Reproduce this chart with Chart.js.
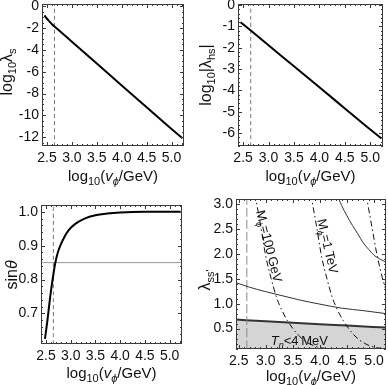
<!DOCTYPE html>
<html>
<head>
<meta charset="utf-8">
<script src="https://cdn.jsdelivr.net/npm/chart.js@4.4.1/dist/chart.umd.min.js"></script>
<style>
html, body { margin: 0; padding: 0; background: #fff; }
#wrap { position: relative; width: 388px; height: 385px; overflow: hidden; }
canvas { position: absolute; }
</style>
</head>
<body>
<div id="wrap">
  <canvas id="c1" width="194" height="192" style="left:0;top:0"></canvas>
  <canvas id="c2" width="194" height="192" style="left:194px;top:0"></canvas>
  <canvas id="c3" width="194" height="193" style="left:0;top:192px"></canvas>
  <canvas id="c4" width="194" height="193" style="left:194px;top:192px"></canvas>
</div>
<script>
// x axis: log10(v_phi/GeV), same ticks for all four panels
var xTicks = [2.5, 3.0, 3.5, 4.0, 4.5, 5.0];
var vCut = 2.65; // dashed vertical line

// top left: log10 lambda_s
var lamSX = [2.45, 2.5, 2.55, 2.6, 2.65, 2.75, 2.9, 3.0, 3.5, 4.0, 4.5, 5.0, 5.22];
var lamSY = [-0.85, -1.15, -1.4, -1.65, -1.85, -2.25, -2.85, -3.25, -5.25, -7.25, -9.25, -11.25, -12.1];
var lamSTicks = [0, -2, -4, -6, -8, -10, -12];

// top right: log10 |lambda_hs|
var lamHsX = [2.45, 3.0, 3.5, 4.0, 4.5, 5.0, 5.22];
var lamHsY = [-0.8, -1.88, -2.87, -3.85, -4.84, -5.83, -6.25];
var lamHsTicks = [0, -1, -2, -3, -4, -5, -6];

// bottom left: sin theta
var sinX = [2.48, 2.53, 2.57, 2.6, 2.65, 2.69, 2.74, 2.79, 2.87, 2.96, 3.1, 3.28, 3.5, 3.74, 4.0, 4.5, 5.22];
var sinY = [0.625, 0.68, 0.73, 0.765, 0.815, 0.85, 0.88, 0.9, 0.925, 0.946, 0.965, 0.98, 0.99, 0.995, 0.998, 1.0, 1.0];
var sinRef = 0.85;
var sinTicks = [0.7, 0.8, 0.9, 1.0];

// bottom right: lambda_ss'
var tnX = [2.45, 3.0, 3.5, 4.0, 4.5, 5.22];
var tnY = [0.68, 0.645, 0.615, 0.585, 0.56, 0.52];
var lowX = [2.45, 2.7, 3.0, 3.3, 3.6, 4.0, 4.4, 4.8, 5.22];
var lowY = [1.42, 1.33, 1.24, 1.16, 1.08, 0.99, 0.91, 0.86, 0.8];
var upX = [4.35, 4.4, 4.5, 4.6, 4.7, 4.8, 4.9, 5.0, 5.1, 5.22];
var upY = [3.1, 2.97, 2.76, 2.57, 2.4, 2.22, 2.09, 1.97, 1.9, 1.83];
var m100X = [2.8, 2.85, 2.9, 3.0, 3.1, 3.2, 3.3, 3.4, 3.5, 3.6, 3.7, 3.8, 3.9, 4.0, 4.1];
var m100Y = [3.2, 2.9, 2.6, 1.95, 1.5, 1.12, 0.86, 0.66, 0.5, 0.37, 0.27, 0.2, 0.15, 0.12, 0.1];
var m1tX = [3.83, 3.88, 3.93, 4.03, 4.13, 4.23, 4.33, 4.43, 4.53, 4.63, 4.73, 4.83, 4.93, 5.03, 5.13];
var m1tY = [3.2, 2.9, 2.6, 1.95, 1.5, 1.12, 0.86, 0.66, 0.5, 0.37, 0.27, 0.2, 0.15, 0.12, 0.1];
var m10tX = [4.85, 4.9, 4.95, 5.05, 5.15, 5.22];
var m10tY = [3.2, 2.9, 2.6, 2.0, 1.53, 1.27];
var lssTicks = [0.5, 1.0, 1.5, 2.0, 2.5, 3.0];

var FONT = "'Liberation Sans', Arial, sans-serif";

function pts(xs, ys) {
  return xs.map(function(x, i) { return { x: x, y: ys[i] }; });
}
function line(xs, ys, color, width, dash, extra) {
  var ds = {
    data: pts(xs, ys), showLine: true, pointRadius: 0, borderColor: color,
    borderWidth: width, borderDash: dash || [], fill: false, cubicInterpolationMode: 'monotone', order: 1
  };
  for (var k in extra) ds[k] = extra[k];
  return ds;
}
function vline(x, y0, y1, color, dash) {
  return line([x, x], [y0, y1], color, 1, dash);
}

// rich text: runs of {t, sub, it}
function runFont(r, size) {
  var s = r.sub ? Math.round(size * 0.7) : size;
  return (r.it ? 'italic ' : '') + s + 'px ' + FONT;
}
function drawRich(ctx, runs, size) {
  var w = 0;
  runs.forEach(function(r) { ctx.font = runFont(r, size); w += ctx.measureText(r.t).width; });
  var x = -w / 2;
  ctx.textAlign = 'left';
  ctx.textBaseline = 'middle';
  runs.forEach(function(r) {
    ctx.font = runFont(r, size);
    ctx.fillText(r.t, x, r.sub ? size * 0.32 : 0);
    x += ctx.measureText(r.t).width;
  });
}

var xTitle = [{ t: 'log' }, { t: '10', sub: true }, { t: '(' }, { t: 'v', it: true }, { t: 'ϕ', sub: true, it: true }, { t: '/GeV)' }];

// frame, inward ticks, axis titles and curve labels
var framePlugin = {
  id: 'frame',
  afterDatasetsDraw: function(chart) {
    var a = chart.chartArea, ctx = chart.ctx, o = chart.options.plugins.frame;
    var sx = chart.scales.x, sy = chart.scales.y;
    ctx.save();
    ctx.strokeStyle = '#3a3a3a';
    ctx.lineWidth = 1;
    ctx.strokeRect(Math.round(a.left) + 0.5, Math.round(a.top) + 0.5, Math.round(a.right - a.left) - 1, Math.round(a.bottom - a.top) - 1);
    ctx.beginPath();
    var v, p, len, n;
    for (n = Math.ceil(sx.min * 10 - 1e-9); n <= Math.floor(sx.max * 10 + 1e-9); n++) {
      p = Math.round(sx.getPixelForValue(n / 10)) + 0.5;
      len = n % 5 === 0 ? 4 : 2;
      ctx.moveTo(p, a.bottom); ctx.lineTo(p, a.bottom - len);
      ctx.moveTo(p, a.top); ctx.lineTo(p, a.top + len);
    }
    var st = o.minor, n0 = Math.ceil(sy.min / st - 1e-9), n1 = Math.floor(sy.max / st + 1e-9);
    for (n = n0; n <= n1; n++) {
      v = n * st;
      p = Math.round(sy.getPixelForValue(v)) + 0.5;
      len = Math.abs(v / o.major - Math.round(v / o.major)) < 1e-6 ? 4 : 2;
      ctx.moveTo(a.left, p); ctx.lineTo(a.left + len, p);
      ctx.moveTo(a.right, p); ctx.lineTo(a.right - len, p);
    }
    ctx.stroke();

    ctx.fillStyle = '#111';
    ctx.save();
    ctx.translate((a.left + a.right) / 2, a.bottom + o.xTitleGap);
    drawRich(ctx, xTitle, 15);
    ctx.restore();
    ctx.save();
    ctx.translate(o.yTitleX, o.yTitleY);
    ctx.rotate(-Math.PI / 2);
    drawRich(ctx, o.yTitle, 16);
    ctx.restore();

    (o.labels || []).forEach(function(l) {
      ctx.save();
      ctx.translate(sx.getPixelForValue(l.x), sy.getPixelForValue(l.y));
      ctx.rotate(l.rot * Math.PI / 180);
      drawRich(ctx, l.runs, 13);
      ctx.restore();
    });
    ctx.restore();
  }
};

function makePanel(id, cfg) {
  return new Chart(document.getElementById(id), {
    type: 'scatter',
    data: { datasets: cfg.datasets },
    options: {
      responsive: false,
      animation: false,
      devicePixelRatio: 1,
      layout: { padding: { top: cfg.top, right: cfg.right, left: 0, bottom: 0 } },
      plugins: {
        legend: { display: false },
        tooltip: { enabled: false },
        frame: { minor: cfg.minor, major: cfg.major, yTitle: cfg.yTitle, yTitleX: cfg.yTitleX, yTitleY: cfg.yTitleY,
                 xTitleGap: cfg.xTitleGap, labels: cfg.labels }
      },
      scales: {
        x: {
          type: 'linear', min: cfg.xmin, max: cfg.xmax,
          grid: { display: false, drawTicks: false }, border: { display: false },
          ticks: { font: { family: FONT, size: 14 }, color: '#111', padding: 4, maxRotation: 0, autoSkip: false,
                   callback: function(v) { return v.toFixed(1); } },
          afterBuildTicks: function(s) { s.ticks = xTicks.map(function(v) { return { value: v }; }); },
          afterFit: function(s) { s.height = cfg.xAxisH; s.paddingLeft = 0; s.paddingRight = 0; }
        },
        y: {
          type: 'linear', min: cfg.ymin, max: cfg.ymax,
          grid: { display: false, drawTicks: false }, border: { display: false },
          ticks: { font: { family: FONT, size: 14 }, color: '#111', padding: 3, autoSkip: false,
                   callback: function(v) { return cfg.fmt(v); } },
          afterBuildTicks: function(s) { s.ticks = cfg.yTicks.map(function(v) { return { value: v }; }); },
          afterFit: function(s) { s.width = cfg.yAxisW; s.paddingTop = 0; s.paddingBottom = 0; }
        }
      }
    },
    plugins: [framePlugin]
  });
}

var intFmt = function(v) { return String(v); };
var oneFmt = function(v) { return v.toFixed(1); };

makePanel('c1', {
  top: 4, right: 10, yAxisW: 42, xAxisH: 46, xmin: 2.4, xmax: 5.25, ymin: -12.8, ymax: 0.2, yTicks: lamSTicks, fmt: intFmt,
  minor: 0.5, major: 2, yTitleX: 8, yTitleY: 72, xTitleGap: 31,
  yTitle: [{ t: 'log' }, { t: '10', sub: true }, { t: 'λ' }, { t: 's', sub: true }],
  datasets: [
    line(lamSX, lamSY, '#000', 2),
    vline(vCut, -12.8, 0.2, '#777', [4, 3])
  ]
});

makePanel('c2', {
  top: 4, right: 5, yAxisW: 44, xAxisH: 46, xmin: 2.4, xmax: 5.25, ymin: -6.6, ymax: 0.05, yTicks: lamHsTicks, fmt: intFmt,
  minor: 0.2, major: 1, yTitleX: 13, yTitleY: 75, xTitleGap: 31,
  yTitle: [{ t: 'log' }, { t: '10', sub: true }, { t: '|λ' }, { t: 'hs', sub: true }, { t: '|' }],
  datasets: [
    line(lamHsX, lamHsY, '#000', 2),
    vline(vCut, -6.6, 0.05, '#777', [4, 3])
  ]
});

makePanel('c3', {
  top: 13, right: 12, yAxisW: 41, xAxisH: 41, xmin: 2.4, xmax: 5.25, ymin: 0.61, ymax: 1.02, yTicks: sinTicks, fmt: oneFmt,
  minor: 0.02, major: 0.1, yTitleX: 13, yTitleY: 83, xTitleGap: 30,
  yTitle: [{ t: 'sin' }, { t: 'θ', it: true }],
  datasets: [
    line(sinX, sinY, '#000', 2),
    line([2.4, 5.25], [sinRef, sinRef], '#999', 1),
    vline(vCut, 0.61, 1.02, '#777', [4, 3])
  ]
});

makePanel('c4', {
  top: 7, right: 2, yAxisW: 42, xAxisH: 36, xmin: 2.45, xmax: 5.22, ymin: 0.09, ymax: 3.1, yTicks: lssTicks, fmt: oneFmt,
  minor: 0.1, major: 0.5, yTitleX: 12, yTitleY: 88, xTitleGap: 28,
  yTitle: [{ t: 'λ' }, { t: "ss'", sub: true }],
  labels: [
    { x: 3.05, y: 2.15, rot: 76, runs: [{ t: 'M' }, { t: 'ϕ', sub: true }, { t: '=100\u2009GeV' }] },
    { x: 4.13, y: 2.15, rot: 77, runs: [{ t: 'M' }, { t: 'ϕ', sub: true }, { t: '=1\u2009TeV' }] },
    { x: 3.62, y: 0.24, rot: 0, runs: [{ t: 'T', it: true }, { t: 'n', sub: true, it: true }, { t: '<4\u2009MeV' }] }
  ],
  datasets: [
    line(tnX, tnY, '#333', 2, [], { fill: 'start', backgroundColor: '#d5d5d5', order: 5 }),
    line(lowX, lowY, '#333', 1),
    line(upX, upY, '#333', 1),
    line(m100X, m100Y, '#111', 1, [6, 3, 1.5, 3]),
    line(m1tX, m1tY, '#111', 1, [6, 3, 1.5, 3]),
    line(m10tX, m10tY, '#111', 1, [6, 3, 1.5, 3]),
    vline(vCut, 0.09, 3.1, '#888', [9, 3])
  ]
});
</script>
</body>
</html>
